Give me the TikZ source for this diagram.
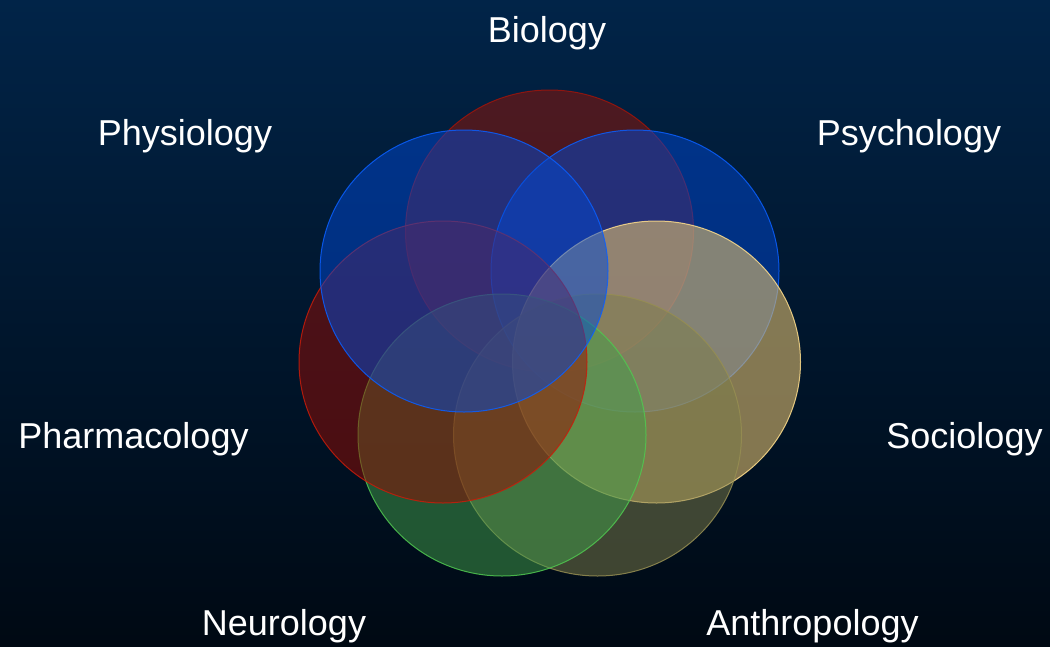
\documentclass[tikz,border=0pt]{standalone}
\usepackage{fontspec}
\setmainfont{Liberation Sans}
\usepackage{xcolor}
\usetikzlibrary{shapes.geometric}
\definecolor{bgtop}{RGB}{1,36,72}
\definecolor{bgbot}{RGB}{0,9,19}
\definecolor{bioRed}{RGB}{152,20,4}
\definecolor{bioLine}{RGB}{160,20,10}
\definecolor{psyBlue}{RGB}{0,72,212}
\definecolor{psyLine}{RGB}{10,95,255}
\definecolor{pharmRed}{RGB}{150,12,2}
\definecolor{pharmLine}{RGB}{200,28,10}
\definecolor{socTan}{RGB}{220,187,110}
\definecolor{socLine}{RGB}{255,222,140}
\definecolor{anthOlive}{RGB}{126,126,74}
\definecolor{anthLine}{RGB}{150,142,82}
\definecolor{neuroGreen}{RGB}{66,160,74}
\definecolor{neuroLine}{RGB}{80,200,80}
\tikzset{
  ring/.style ={ellipse,draw,line width=1pt,minimum width=288pt,minimum height=282pt,
                inner sep=0pt,fill opacity=0.5,draw opacity=0.85},
  field/.style={font=\fontsize{36}{40}\selectfont,text=white,anchor=base,inner sep=0pt},
}

\begin{document}
\begin{tikzpicture}[x=1pt,y=-1pt]
  % background
  \useasboundingbox (0,0) rectangle (1050,646);
  \fill[top color=bgtop,bottom color=bgbot] (0,0) rectangle (1050,646);
  % circles, back to front
  \node[ring,fill=bioRed,draw=bioLine] (bio) at (549.5,231) {};
  \node[ring,fill=psyBlue,draw=psyLine] (psych) at (635,271) {};
  \node[ring,fill=socTan,draw=socLine,fill opacity=0.6] (socio) at (656.5,362) {};
  \node[ring,fill=anthOlive,draw=anthLine] (anthro) at (597.5,435) {};
  \node[ring,fill=neuroGreen,draw=neuroLine] (neuro) at (502,435) {};
  \node[ring,fill=pharmRed,draw=pharmLine] (pharma) at (443,362) {};
  \node[ring,fill=psyBlue,draw=psyLine] (physio) at (464,271) {};
  % labels
  \node[field] (lbio) at (547,42) {Biology};
  \node[field] (lphysio) at (185,145) {Physiology};
  \node[field] (lpsych) at (909,145) {Psychology};
  \node[field] (lpharma) at (133.5,448) {Pharmacology};
  \node[field] (lsocio) at (964.5,448) {Sociology};
  \node[field] (lneuro) at (284,635) {Neurology};
  \node[field] (lanthro) at (812.5,635) {Anthropology};
\end{tikzpicture}
\end{document}
